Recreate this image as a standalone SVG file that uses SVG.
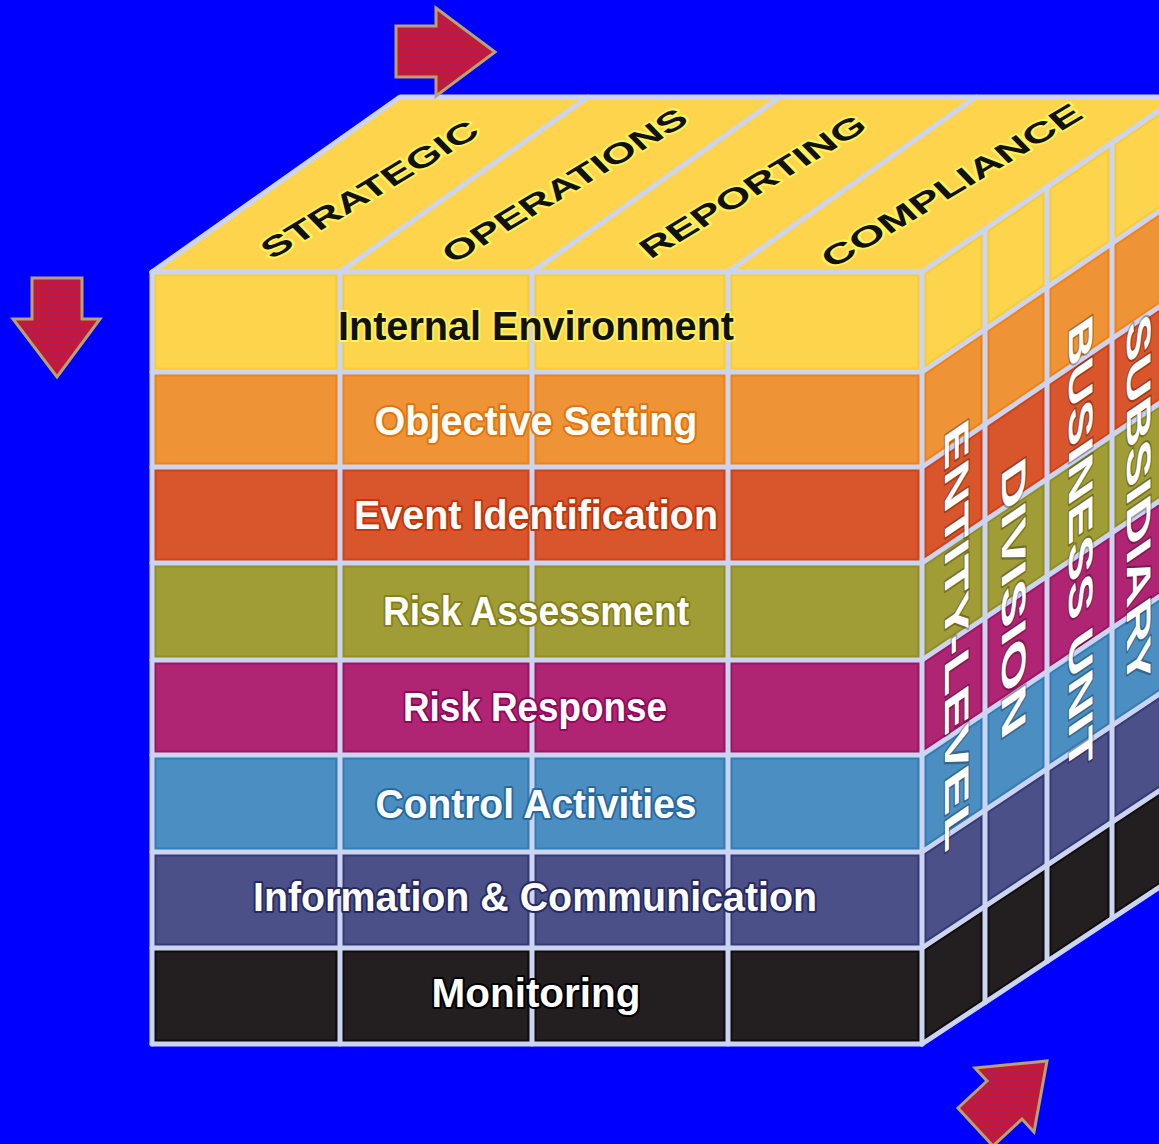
<svg xmlns="http://www.w3.org/2000/svg" width="1159" height="1144" viewBox="0 0 1159 1144">
  <defs>
    <style>
      .lbl{font-family:"Liberation Sans",Arial,sans-serif;font-weight:bold}
      .front{font-size:40px;text-anchor:middle;fill:#fff;paint-order:stroke;stroke-width:4px;stroke-linejoin:round}
      .top{font-size:30px;text-anchor:middle;fill:#111;stroke:#fff25c;stroke-width:4px;paint-order:stroke;stroke-linejoin:round}
      .side{font-size:34px;fill:#fff;stroke:rgba(0,0,0,0.28);stroke-width:2.5px;paint-order:stroke;stroke-linejoin:round}
      .grid{fill:none;stroke:#cbd4f0;stroke-width:5;stroke-linejoin:round;stroke-linecap:round}
      .cell{stroke-width:9}
      .arrow{fill:url(#hatch);stroke:#b9a26c;stroke-width:3;stroke-linejoin:miter}
      .r0{fill:#fdd54c;stroke:#fbcc30}
      .r1{fill:#ee9336;stroke:#f28212}
      .r2{fill:#d9552b;stroke:#d44214}
      .r3{fill:#a09d36;stroke:#928e24}
      .r4{fill:#b02573;stroke:#a01464}
      .r5{fill:#4a8ec2;stroke:#337cb6}
      .r6{fill:#4c5089;stroke:#343a76}
      .r7{fill:#231f20;stroke:#100d0d}
    </style>
    <pattern id="hatch" width="4" height="4" patternUnits="userSpaceOnUse">
      <rect width="4" height="4" fill="#dc1414"/>
      <path d="M0 0.5H4M0.5 0V4" stroke="#6a2ab0" stroke-width="1" opacity="0.45"/>
    </pattern>
    <!-- one clip region per layer: front band + side band -->
    <clipPath id="c0"><rect x="152" y="272" width="770" height="100"/><polygon points="922,272 1180,96.6 1180,197.2 922,372"/></clipPath>
    <clipPath id="c1"><rect x="152" y="372" width="770" height="95"/><polygon points="922,372 1180,197.2 1180,292.9 922,467"/></clipPath>
    <clipPath id="c2"><rect x="152" y="467" width="770" height="96"/><polygon points="922,467 1180,292.9 1180,389.5 922,563"/></clipPath>
    <clipPath id="c3"><rect x="152" y="563" width="770" height="97"/><polygon points="922,563 1180,389.5 1180,487.2 922,660"/></clipPath>
    <clipPath id="c4"><rect x="152" y="660" width="770" height="95"/><polygon points="922,660 1180,487.2 1180,582.8 922,755"/></clipPath>
    <clipPath id="c5"><rect x="152" y="755" width="770" height="97"/><polygon points="922,755 1180,582.8 1180,680.4 922,852"/></clipPath>
    <clipPath id="c6"><rect x="152" y="852" width="770" height="96"/><polygon points="922,852 1180,680.4 1180,777.1 922,948"/></clipPath>
    <clipPath id="c7"><rect x="152" y="948" width="770" height="96"/><polygon points="922,948 1180,777.1 1180,873.7 922,1044"/></clipPath>
  </defs>

  <rect width="1159" height="1144" fill="#0000ff"/>

  <!-- top face: the four objective categories -->
  <g id="top-face">
    <polygon points="152,272 400,97 1185,97 922,272" fill="#fdd44b"/>
  </g>

  <!-- component layers, each spanning the front and right faces -->
  <g id="layer-internal-environment" class="cell r0" clip-path="url(#c0)">
    <rect x="152" y="272" width="188" height="100"/><rect x="340" y="272" width="192" height="100"/><rect x="532" y="272" width="196" height="100"/><rect x="728" y="272" width="194" height="100"/>
    <polygon points="922,272 985,229.2 985,329.3 922,372"/><polygon points="985,229.2 1047,187 1047,287.3 985,329.3"/><polygon points="1047,187 1112,142.8 1112,243.3 1047,287.3"/><polygon points="1112,142.8 1180,96.6 1180,197.2 1112,243.3"/>
  </g>
  <g id="layer-objective-setting" class="cell r1" clip-path="url(#c1)">
    <rect x="152" y="372" width="188" height="95"/><rect x="340" y="372" width="192" height="95"/><rect x="532" y="372" width="196" height="95"/><rect x="728" y="372" width="194" height="95"/>
    <polygon points="922,372 985,329.3 985,424.5 922,467"/><polygon points="985,329.3 1047,287.3 1047,382.6 985,424.5"/><polygon points="1047,287.3 1112,243.3 1112,338.8 1047,382.6"/><polygon points="1112,243.3 1180,197.2 1180,292.9 1112,338.8"/>
  </g>
  <g id="layer-event-identification" class="cell r2" clip-path="url(#c2)">
    <rect x="152" y="467" width="188" height="96"/><rect x="340" y="467" width="192" height="96"/><rect x="532" y="467" width="196" height="96"/><rect x="728" y="467" width="194" height="96"/>
    <polygon points="922,467 985,424.5 985,520.6 922,563"/><polygon points="985,424.5 1047,382.6 1047,478.9 985,520.6"/><polygon points="1047,382.6 1112,338.8 1112,435.2 1047,478.9"/><polygon points="1112,338.8 1180,292.9 1180,389.5 1112,435.2"/>
  </g>
  <g id="layer-risk-assessment" class="cell r3" clip-path="url(#c3)">
    <rect x="152" y="563" width="188" height="97"/><rect x="340" y="563" width="192" height="97"/><rect x="532" y="563" width="196" height="97"/><rect x="728" y="563" width="194" height="97"/>
    <polygon points="922,563 985,520.6 985,617.8 922,660"/><polygon points="985,520.6 1047,478.9 1047,576.3 985,617.8"/><polygon points="1047,478.9 1112,435.2 1112,532.7 1047,576.3"/><polygon points="1112,435.2 1180,389.5 1180,487.2 1112,532.7"/>
  </g>
  <g id="layer-risk-response" class="cell r4" clip-path="url(#c4)">
    <rect x="152" y="660" width="188" height="95"/><rect x="340" y="660" width="192" height="95"/><rect x="532" y="660" width="196" height="95"/><rect x="728" y="660" width="194" height="95"/>
    <polygon points="922,660 985,617.8 985,712.9 922,755"/><polygon points="985,617.8 1047,576.3 1047,671.6 985,712.9"/><polygon points="1047,576.3 1112,532.7 1112,628.2 1047,671.6"/><polygon points="1112,532.7 1180,487.2 1180,582.8 1112,628.2"/>
  </g>
  <g id="layer-control-activities" class="cell r5" clip-path="url(#c5)">
    <rect x="152" y="755" width="188" height="97"/><rect x="340" y="755" width="192" height="97"/><rect x="532" y="755" width="196" height="97"/><rect x="728" y="755" width="194" height="97"/>
    <polygon points="922,755 985,712.9 985,810.1 922,852"/><polygon points="985,712.9 1047,671.6 1047,768.9 985,810.1"/><polygon points="1047,671.6 1112,628.2 1112,725.6 1047,768.9"/><polygon points="1112,628.2 1180,582.8 1180,680.4 1112,725.6"/>
  </g>
  <g id="layer-information-communication" class="cell r6" clip-path="url(#c6)">
    <rect x="152" y="852" width="188" height="96"/><rect x="340" y="852" width="192" height="96"/><rect x="532" y="852" width="196" height="96"/><rect x="728" y="852" width="194" height="96"/>
    <polygon points="922,852 985,810.1 985,906.3 922,948"/><polygon points="985,810.1 1047,768.9 1047,865.2 985,906.3"/><polygon points="1047,768.9 1112,725.6 1112,822.1 1047,865.2"/><polygon points="1112,725.6 1180,680.4 1180,777.1 1112,822.1"/>
  </g>
  <g id="layer-monitoring" class="cell r7" clip-path="url(#c7)">
    <rect x="152" y="948" width="188" height="96"/><rect x="340" y="948" width="192" height="96"/><rect x="532" y="948" width="196" height="96"/><rect x="728" y="948" width="194" height="96"/>
    <polygon points="922,948 985,906.3 985,1002.4 922,1044"/><polygon points="985,906.3 1047,865.2 1047,961.5 985,1002.4"/><polygon points="1047,865.2 1112,822.1 1112,918.6 1047,961.5"/><polygon points="1112,822.1 1180,777.1 1180,873.7 1112,918.6"/>
  </g>

  <!-- cube edges and cell dividers -->
  <g id="grid" class="grid">
    <path d="M152 272H922M152 372H922M152 467H922M152 563H922M152 660H922M152 755H922M152 852H922M152 948H922M152 1044H922"/>
    <path d="M152 272V1044M340 272V1044M532 272V1044M728 272V1044M922 272V1044"/>
    <path d="M922 272L1180 96.6M922 372L1180 197.2M922 467L1180 292.9M922 563L1180 389.5M922 660L1180 487.2M922 755L1180 582.8M922 852L1180 680.4M922 948L1180 777.1M922 1044L1180 873.7"/>
    <path d="M985 229.2V1002.4M1047 187V961.5M1112 142.8V918.6"/>
    <path d="M152 272L400 97H1190M340 272L588 97M532 272L780 97M728 272L976 97"/>
  </g>

  <!-- objective labels on the top face -->
  <g id="top-labels" class="lbl">
    <text class="top" transform="matrix(0.857,-0.515,0.7,0.72,369,189)" y="11" textLength="245" lengthAdjust="spacingAndGlyphs">STRATEGIC</text>
    <text class="top" transform="matrix(0.857,-0.515,0.7,0.72,564,185)" y="11" textLength="277" lengthAdjust="spacingAndGlyphs">OPERATIONS</text>
    <text class="top" transform="matrix(0.857,-0.515,0.7,0.72,752,186)" y="11" textLength="255" lengthAdjust="spacingAndGlyphs">REPORTING</text>
    <text class="top" transform="matrix(0.857,-0.515,0.7,0.72,951,185)" y="11" textLength="295" lengthAdjust="spacingAndGlyphs">COMPLIANCE</text>
  </g>

  <!-- component labels on the front face -->
  <g id="front-labels" class="lbl">
    <text class="front" x="536" y="340" textLength="396" lengthAdjust="spacingAndGlyphs" style="fill:#111;stroke:#fff25c">Internal Environment</text>
    <text class="front" x="536" y="435" textLength="323" lengthAdjust="spacingAndGlyphs" style="stroke:#e27408">Objective Setting</text>
    <text class="front" x="536" y="529" textLength="364" lengthAdjust="spacingAndGlyphs" style="stroke:#c2360a">Event Identification</text>
    <text class="front" x="536" y="625" textLength="306" lengthAdjust="spacingAndGlyphs" style="stroke:#858018">Risk Assessment</text>
    <text class="front" x="535" y="721" textLength="264" lengthAdjust="spacingAndGlyphs" style="stroke:#920858">Risk Response</text>
    <text class="front" x="536" y="818" textLength="321" lengthAdjust="spacingAndGlyphs" style="stroke:#2868a0">Control Activities</text>
    <text class="front" x="535" y="911" textLength="564" lengthAdjust="spacingAndGlyphs" style="stroke:#262a60">Information &amp; Communication</text>
    <text class="front" x="536" y="1007" textLength="209" lengthAdjust="spacingAndGlyphs" style="stroke:#000">Monitoring</text>
  </g>

  <!-- unit labels on the right face -->
  <g id="side-labels" class="lbl">
    <text class="side" transform="matrix(0,1,-1,0.68,945,432)" textLength="422" lengthAdjust="spacingAndGlyphs">ENTITY-LEVEL</text>
    <text class="side" transform="matrix(0,1,-1,0.68,1002,470)" textLength="272" lengthAdjust="spacingAndGlyphs">DIVISION</text>
    <text class="side" transform="matrix(0,1,-1,0.68,1069,328)" textLength="447" lengthAdjust="spacingAndGlyphs">BUSINESS UNIT</text>
    <text class="side" transform="matrix(0,1,-1,0.68,1127,326)" textLength="364" lengthAdjust="spacingAndGlyphs">SUBSIDIARY</text>
  </g>

  <!-- direction arrows -->
  <g id="arrow-right"><polygon class="arrow" points="396,26 436,26 436,8 495,52 436,96 436,77 396,77"/></g>
  <g id="arrow-down"><polygon class="arrow" points="32,278 82,278 82,319 100,319 57,377 13,319 32,319"/></g>
  <g id="arrow-diagonal"><polygon class="arrow" points="975,1068 1047,1061 1034,1132 1022,1119 993,1146 958,1108 987,1081"/></g>
</svg>
